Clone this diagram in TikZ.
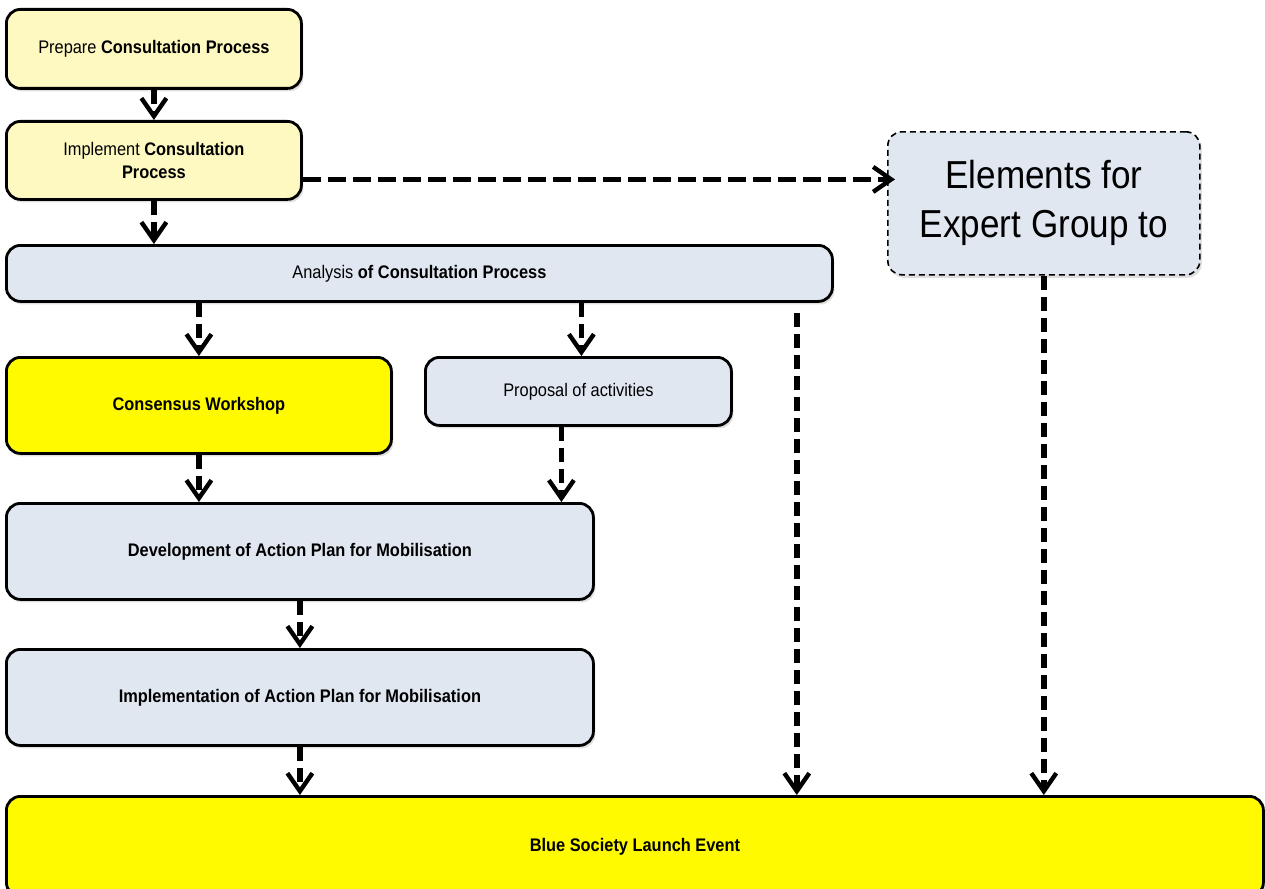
\documentclass[tikz,border=0pt]{standalone}
\usepackage{fontspec}
\setmainfont{Liberation Sans}[FakeStretch=0.9]
\usetikzlibrary{arrows.meta,shadows,calc}

\definecolor{paleyellow}{HTML}{FDF9C1}
\definecolor{paleblue}{HTML}{E0E7F1}
\definecolor{brightyellow}{HTML}{FFFA00}

\tikzset{
  box/.style={draw=black, line width=2.8pt, rounded corners=14pt,
    anchor=north west, align=center, inner sep=4pt,
    font=\fontsize{18.2}{23}\selectfont,
    drop shadow={opacity=0.25, shadow xshift=2pt, shadow yshift=-3pt}},
  prep/.style={box, fill=paleyellow},
  info/.style={box, fill=paleblue},
  key/.style={box, fill=brightyellow},
  outline/.style={box, fill=paleblue, line width=1.6pt, dash pattern=on 6pt off 4pt,
    font=\fontsize{39}{49}\selectfont},
  flow/.style={line width=5.4pt, dash pattern=on 14pt off 7pt,
    -{Straight Barb[length=18pt, width=25pt, line width=4.4pt]}},
  longdash/.style={dash pattern=on 18pt off 7pt},
}

\begin{document}
\begin{tikzpicture}[x=1pt, y=-1pt]
\useasboundingbox (0,0) rectangle (1265,888);

% process boxes
\node[prep, minimum width=295pt, minimum height=79pt] (prepare) at (5,8)
  {Prepare \textbf{Consultation Process}};
\node[prep, minimum width=295pt, minimum height=78pt] (implement) at (5,120)
  {Implement \textbf{Consultation}\\\textbf{Process}};
\node[info, minimum width=826pt, minimum height=56pt] (analysis) at (5,244)
  {Analysis \textbf{of Consultation Process}};
\node[key, minimum width=385pt, minimum height=96pt] (consensus) at (5,356)
  {\textbf{Consensus Workshop}};
\node[info, minimum width=306pt, minimum height=68pt] (proposal) at (424,356)
  {Proposal of activities};
\node[info, minimum width=587pt, minimum height=96pt] (develop) at (5,502)
  {\textbf{Development of Action Plan for Mobilisation}};
\node[info, minimum width=587pt, minimum height=96pt] (implplan) at (5,648)
  {\textbf{Implementation of Action Plan for Mobilisation}};
\node[key, minimum width=1257pt, minimum height=100pt] (launch) at (5,795)
  {\textbf{Blue Society Launch Event}};
\node[outline, minimum width=312pt, minimum height=143pt] (elements) at (887,131)
  {Elements for\\Expert Group to};

% connectors
\draw[flow] (prepare.south) -- (implement.north);
\draw[flow] (implement.south) -- (implement.south |- analysis.north);
\draw[flow, longdash] ([yshift=-19pt]implement.east) -- ([yshift=-19pt, xshift=8pt]implement.east -| elements.west);
\draw[flow] (analysis.south -| consensus.north) -- (consensus.north);
\draw[flow] ([xshift=3pt]analysis.south -| proposal.north) -- ([xshift=3pt]proposal.north);
\draw[flow] (consensus.south) -- (consensus.south |- develop.north);
\draw[flow] ([xshift=-17pt]proposal.south) -- ([xshift=-17pt]proposal.south |- develop.north);
\draw[flow] (develop.south) -- (implplan.north);
\draw[flow] (implplan.south) -- (implplan.south |- launch.north);
\coordinate (tap) at ([xshift=-37pt, yshift=-10pt]analysis.south east);
\draw[flow] (tap) -- (tap |- launch.north);
\draw[flow] (elements.south) -- (elements.south |- launch.north);
\end{tikzpicture}
\end{document}
